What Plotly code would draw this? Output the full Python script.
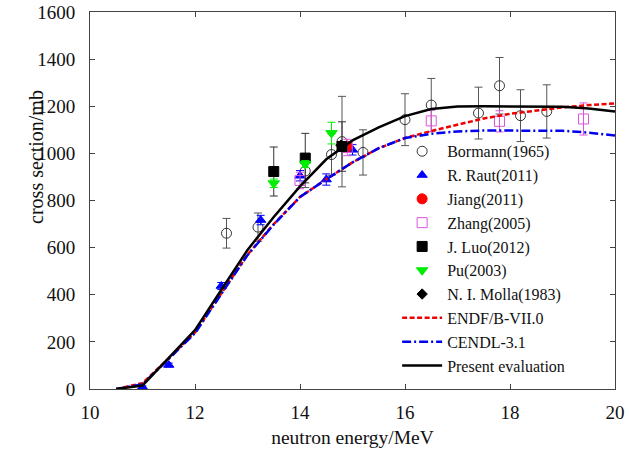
import plotly.graph_objects as go

# ---- data ----
eval_energy = [10.5, 11, 11.5, 12, 12.5, 13, 13.5, 14, 14.5, 15, 15.5, 16, 16.5, 17, 17.5, 18, 18.5, 19, 19.5, 20]
present_eval = [0, 15, 132, 250, 420, 590, 730, 860, 975, 1055, 1110, 1158, 1188, 1199, 1200, 1200, 1200, 1198, 1190, 1178]
endf_b7 = [0, 25, 130, 240, 405, 570, 700, 815, 890, 962, 1022, 1065, 1095, 1120, 1148, 1168, 1183, 1195, 1205, 1212]
cendl31 = [0, 20, 128, 237, 403, 568, 698, 815, 890, 962, 1022, 1065, 1083, 1093, 1097, 1097, 1097, 1096, 1088, 1076]

bormann_e = [12.6, 13.2, 14.1, 14.6, 14.8, 15.2, 16.0, 16.5, 17.4, 17.8, 18.2, 18.7]
bormann_cs = [661, 687, 925, 995, 1050, 1004, 1143, 1205, 1171, 1287, 1160, 1178]
bormann_err = [63, 60, 70, 88, 192, 96, 110, 113, 110, 120, 110, 113]

raut_e = [11.0, 11.5, 12.5, 13.25, 14.0, 14.5, 15.0]
raut_cs = [8, 102, 437, 717, 905, 889, 1015]
raut_err = [5, 8, 15, 20, 22, 24, 22]

jiang_e = [14.9]
jiang_cs = [1030]
jiang_err = [20]

zhang_e = [14.0, 14.9, 16.5, 17.8, 19.4]
zhang_cs = [885, 1025, 1138, 1136, 1146]
zhang_err = [35, 35, 45, 45, 68]

luo_e = [13.5, 14.1, 14.8]
luo_cs = [923, 980, 1029]
luo_err = [104, 105, 105]

pu_e = [13.5, 14.1, 14.6]
pu_cs = [873, 955, 1086]
pu_err = [18, 15, 46]

molla_e = [14.78]
molla_cs = [1035]

SERIF = "Liberation Serif, Times New Roman, serif"

fig = go.Figure()


def pts(name, x, y, err, symbol, color, size, ecolor=None):
    mk = dict(symbol=symbol, size=size, color=color, line=dict(color=color, width=1))
    ey = None
    if err is not None:
        ey = dict(type="data", array=err, visible=True, color=ecolor or color,
                  thickness=1, width=4)
    fig.add_trace(go.Scatter(x=x, y=y, mode="markers", name=name, marker=mk,
                             error_y=ey))


pts("Bormann(1965)", bormann_e, bormann_cs, bormann_err, "circle-open", "#333333", 10, ecolor="#555555")
pts("R. Raut(2011)", raut_e, raut_cs, raut_err, "triangle-up", "#0000ff", 9)
pts("Jiang(2011)", jiang_e, jiang_cs, jiang_err, "circle", "#ff0000", 10)
pts("Zhang(2005)", zhang_e, zhang_cs, zhang_err, "square-open", "#dd55dd", 10)
pts("J. Luo(2012)", luo_e, luo_cs, luo_err, "square", "#000000", 10, ecolor="#333333")
pts("Pu(2003)", pu_e, pu_cs, pu_err, "triangle-down", "#00ee00", 10)
pts("N. I. Molla(1983)", molla_e, molla_cs, None, "diamond", "#000000", 8)

fig.add_trace(go.Scatter(x=eval_energy, y=endf_b7, mode="lines", name="ENDF/B-VII.0",
                         line=dict(color="#ee0000", width=2.5, dash="5px,2.5px")))
fig.add_trace(go.Scatter(x=eval_energy, y=cendl31, mode="lines", name="CENDL-3.1",
                         line=dict(color="#0000ee", width=2.5, dash="9px,3px,2px,3px")))
fig.add_trace(go.Scatter(x=eval_energy, y=present_eval, mode="lines", name="Present evaluation",
                         line=dict(color="#000000", width=2.5)))

axis_common = dict(showline=True, linecolor="#444444", linewidth=1, mirror="ticks",
                   ticks="inside", ticklen=5, tickcolor="#444444", showgrid=False,
                   zeroline=False, automargin=False, ticklabeloverflow="allow",
                   tickfont=dict(family=SERIF, size=19, color="#111111"))

fig.update_xaxes(range=[10, 20], dtick=2, ticklabelstandoff=6,
                 title=dict(text="neutron energy/MeV", standoff=8,
                            font=dict(family=SERIF, size=19.5, color="#111111")),
                 **axis_common)
fig.update_yaxes(range=[0, 1600], dtick=200, ticklabelstandoff=10, **axis_common)

fig.add_annotation(text="cross section/mb", textangle=-90, xref="paper", yref="paper",
                   x=-0.128, y=0.615, showarrow=False,
                   font=dict(family=SERIF, size=20, color="#111111"))

fig.update_layout(
    width=629, height=456,
    margin=dict(l=90, r=14, t=12, b=67),
    plot_bgcolor="white", paper_bgcolor="white",
    legend=dict(x=0.585, y=0.015, xanchor="left", yanchor="bottom",
                bgcolor="rgba(0,0,0,0)", itemwidth=40,
                font=dict(family=SERIF, size=16, color="#111111")),
)

# remove the default page margin so the figure fills the 629x456 window exactly
fig.write_html("out.html",
               config={"displayModeBar": False},
               post_script="document.body.style.margin='0';"
                           "document.documentElement.style.overflow='hidden';")
